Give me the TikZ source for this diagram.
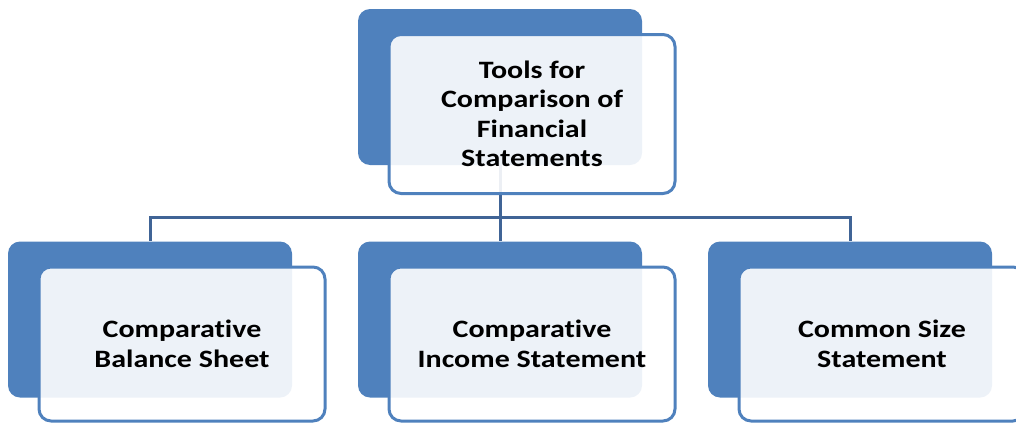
\documentclass[tikz,border=0pt]{standalone}
\usepackage{fontspec}
\setmainfont{Carlito}[FakeStretch=1.2,Ligatures=NoCommon]
\definecolor{boxblue}{RGB}{79,129,189}
\definecolor{linkblue}{RGB}{64,100,150}
\begin{document}
\begin{tikzpicture}[x=1pt,y=-1pt,
    back/.style={fill=boxblue,rounded corners=12pt,minimum width=284pt,minimum height=156pt,inner sep=0pt},
    front/.style={draw=boxblue,line width=3pt,fill=white,fill opacity=0.9,text opacity=1,
      rounded corners=12pt,minimum width=286pt,minimum height=154pt,inner sep=0pt,
      align=center,font=\bfseries\fontsize{25}{29.5}\selectfont},
    link/.style={draw=linkblue,line width=3pt}]
  \useasboundingbox (0,0) rectangle (1016,423);
  % back plates
  \node[back] (toolsback) at (500,87) {};
  \node[back] (balback) at (150,319.5) {};
  \node[back] (incback) at (500,319.5) {};
  \node[back] (sizeback) at (850,319.5) {};

  % tree lines
  \coordinate (bus) at (500,217);
  \draw[link] (toolsback.south) -- (bus);
  \draw[link] (bus) -| (balback.north);
  \draw[link] (bus) -- (incback.north);
  \draw[link] (bus) -| (sizeback.north);

  % front cards
  \node[front,minimum height=159pt] (tools) at (532,114) {Tools for\\Comparison of\\Financial\\Statements};
  \node[front] (bal) at (182,344) {Comparative\\Balance Sheet};
  \node[front] (inc) at (532,344) {Comparative\\Income Statement};
  \node[front] (size) at (882,344) {Common Size\\Statement};
\end{tikzpicture}
\end{document}
